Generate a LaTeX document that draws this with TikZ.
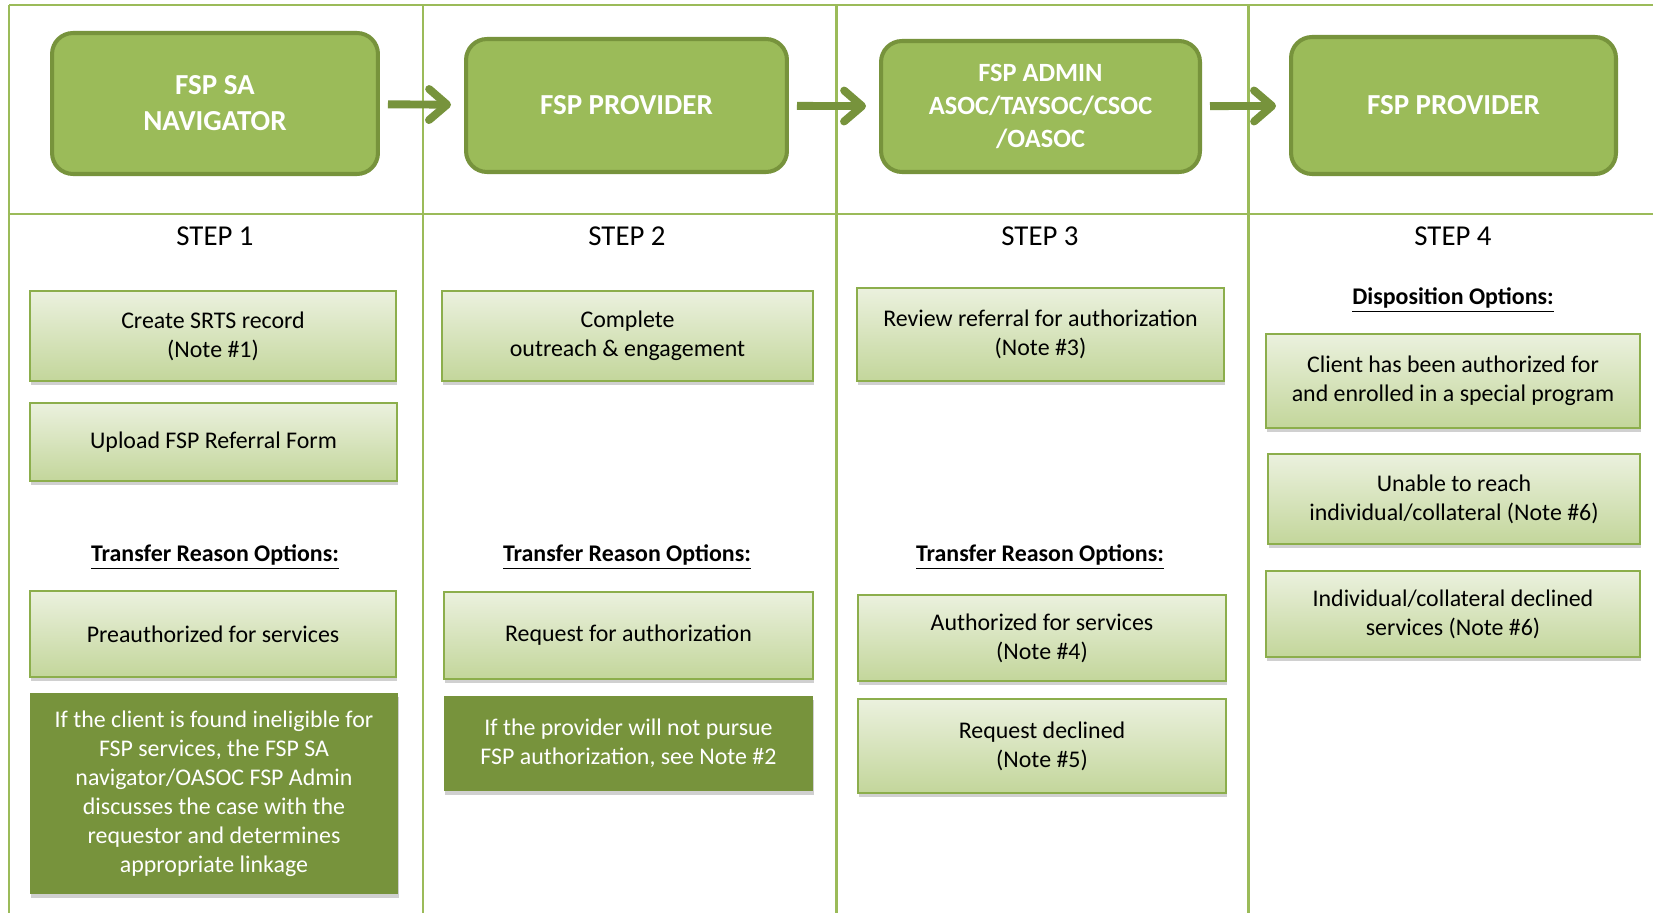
\documentclass[tikz,border=0pt]{standalone}
\usepackage{fontspec}
\setmainfont{Carlito}
\usetikzlibrary{positioning,shadows,arrows.meta}

\definecolor{gridgreen}{HTML}{9BBB59}
\definecolor{darkgreen}{HTML}{77933C}
\definecolor{paletop}{HTML}{EBF1DE}
\definecolor{palebot}{HTML}{C3D69B}
\definecolor{paleedge}{HTML}{8CAE4C}

\begin{document}
\begin{tikzpicture}[
            x=0.02cm, y=-0.02cm,
            grid line/.style={draw=gridgreen, line width=1.7pt},
            head node/.style={rounded corners=0.42cm, draw=darkgreen, line width=2.3pt, fill=gridgreen, text=white,
                font=\fontsize{16.5}{20.5}\selectfont\bfseries, align=center},
            step label/.style={font=\fontsize{16.4}{19}\selectfont},
            option label/.style={font=\fontsize{13.6}{16.5}\selectfont\bfseries},
            task node/.style={draw=paleedge, line width=1pt, top color=paletop, bottom color=palebot, align=center,
                font=\fontsize{13.6}{16.5}\selectfont, inner sep=0pt, execute at begin node={\vspace*{3.5pt}},
                drop shadow={shadow xshift=0.6pt, shadow yshift=-2pt, opacity=0.3, fill=black!60}},
            note node/.style={fill=darkgreen, text=white, align=center, font=\fontsize{13.6}{16.5}\selectfont, inner sep=0pt,
                execute at begin node={\vspace*{2pt}},
                drop shadow={shadow xshift=0.6pt, shadow yshift=-2pt, opacity=0.3, fill=black!60}},
            flow/.style={draw=darkgreen, line width=4.5pt, -{Straight Barb[length=0.36cm,width=0.62cm,round]},
                shorten <=0.16cm, shorten >=0.26cm},
        ]
            \useasboundingbox[fill=white] (0,0) rectangle (1653,913);

            % frame of the four columns
            \draw[grid line] (9,5) -- (1653,5);
            \draw[grid line] (9,214) -- (1653,214);
            \foreach \gx in {9,423,836,1248}
                \draw[grid line] (\gx,5) -- (\gx,913);

            % roles
            \node[head node, minimum width=6.52cm, minimum height=2.82cm] (navigator) at (215,103.5) {FSP SA\\NAVIGATOR};
            \node[head node, minimum width=6.42cm, minimum height=2.66cm] (provider_a) at (626.5,105.5) {FSP PROVIDER};
            \node[head node, minimum width=6.38cm, minimum height=2.62cm, font=\fontsize{15}{19}\selectfont\bfseries] (admin) at (1040.5,106.5) {FSP ADMIN\\ASOC/TAYSOC/CSOC\\/OASOC};
            \node[head node, minimum width=6.5cm, minimum height=2.74cm] (provider_b) at (1453.5,105.5) {FSP PROVIDER};

            \path[flow] (navigator) -- (provider_a);
            \path[flow] (provider_a) -- (admin);
            \path[flow] (admin) -- (provider_b);

            \node[step label] (step1) at (215,236) {STEP 1};
            \node[step label] (step2) at (627,236) {STEP 2};
            \node[step label] (step3) at (1040,236) {STEP 3};
            \node[step label] (step4) at (1453,236) {STEP 4};

            % step 1
            \node[task node, minimum width=7.32cm, minimum height=1.8cm] (srts) at (213,336) {Create SRTS record\\(Note \#1)};
            \node[task node, minimum width=7.34cm, minimum height=1.56cm] (upload) at (213.5,442) {Upload FSP Referral Form};
            \node[option label] (transfer1) at (215,557) {\underline{Transfer Reason Options:}};
            \node[task node, minimum width=7.32cm, minimum height=1.72cm] (preauth) at (213,634) {Preauthorized for services};
            \node[note node, minimum width=7.36cm, minimum height=4.02cm] (ineligible) at (214,793.5) {If the client is found ineligible for\\FSP services, the FSP SA\\navigator/OASOC FSP Admin\\discusses the case with the\\requestor and determines\\appropriate linkage};

            % step 2
            \node[task node, minimum width=7.42cm, minimum height=1.8cm] (outreach) at (627.5,336) {Complete\\outreach \& engagement};
            \node[option label] (transfer2) at (627,557) {\underline{Transfer Reason Options:}};
            \node[task node, minimum width=7.38cm, minimum height=1.74cm] (request) at (628.5,635.5) {Request for authorization};
            \node[note node, minimum width=7.38cm, minimum height=1.9cm] (notpursue) at (628.5,743.5) {If the provider will not pursue\\FSP authorization, see Note \#2};

            % step 3
            \node[task node, minimum width=7.34cm, minimum height=1.86cm] (review) at (1040.5,334.5) {Review referral for authorization\\(Note \#3)};
            \node[option label] (transfer3) at (1040,557) {\underline{Transfer Reason Options:}};
            \node[task node, minimum width=7.36cm, minimum height=1.72cm] (authorized) at (1042,638) {Authorized for services\\(Note \#4)};
            \node[task node, minimum width=7.36cm, minimum height=1.88cm] (declined) at (1042,746) {Request declined\\(Note \#5)};

            % step 4
            \node[option label] (disposition) at (1453,300) {\underline{Disposition Options:}};
            \node[task node, minimum width=7.48cm, minimum height=1.88cm] (enrolled) at (1453,381) {Client has been authorized for\\and enrolled in a special program};
            \node[task node, minimum width=7.44cm, minimum height=1.8cm] (unreach) at (1454,499) {Unable to reach\\individual/collateral (Note \#6)};
            \node[task node, minimum width=7.48cm, minimum height=1.72cm] (refused) at (1453,614) {Individual/collateral declined\\services (Note \#6)};
        \end{tikzpicture}
\end{document}
